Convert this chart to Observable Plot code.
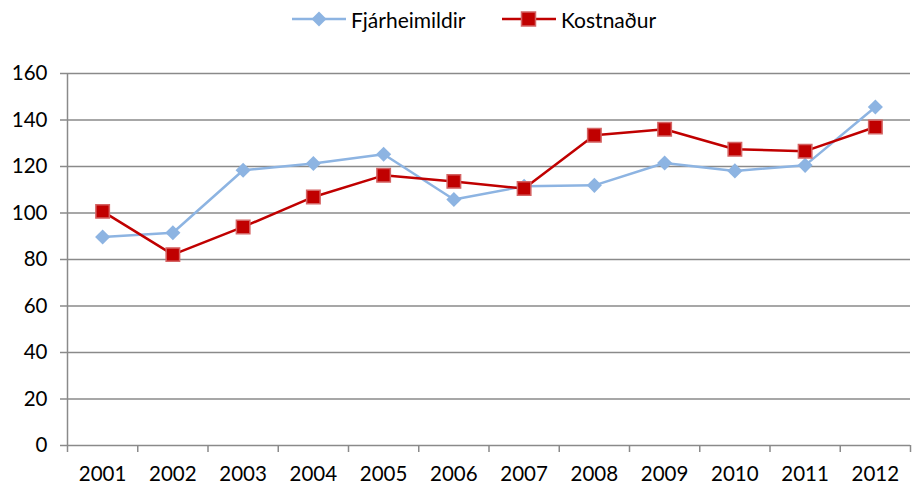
<!DOCTYPE html>
<html>
<head>
<meta charset="utf-8">
<script src="https://cdn.jsdelivr.net/npm/d3@7"></script>
<script src="https://cdn.jsdelivr.net/npm/@observablehq/plot@0.6"></script>
<style>
  body { margin: 0; background: #fff; font-family: Lato, "Open Sans", sans-serif; }
  #wrap { position: relative; width: 914px; height: 487px; }
  #legend { position: relative; height: 38px; font-size: 21px; color: #000; }
  .item { position: absolute; top: 8px; display: flex; align-items: center; height: 22px; }
  .item svg { margin-right: 5px; }
  #chart { position: absolute; top: 38px; left: 0; }
</style>
</head>
<body>
<div id="wrap">
  <div id="legend">
    <div class="item" style="left:292px">
      <svg width="54" height="22"><line x1="0" y1="11" x2="54" y2="11" stroke="#8DB4E2" stroke-width="2.5"/><path d="M27,3.5L34.5,11L27,18.5L19.5,11Z" fill="#8DB4E2"/></svg>
      <span>Fjárheimildir</span>
    </div>
    <div class="item" style="left:502px">
      <svg width="54" height="22"><line x1="0" y1="11" x2="54" y2="11" stroke="#C00000" stroke-width="2.5"/><rect x="19.5" y="4" width="14" height="14" fill="#C00000" stroke="#d46464" stroke-width="1.5"/></svg>
      <span>Kostnaður</span>
    </div>
  </div>
  <div id="chart"></div>
</div>
<script>
const years = [2001, 2002, 2003, 2004, 2005, 2006, 2007, 2008, 2009, 2010, 2011, 2012];
const fjarheimildir = [89.7, 91.5, 118.4, 121.3, 125.3, 105.8, 111.5, 111.9, 121.5, 118.1, 120.5, 145.6];
const kostnadur = [100.7, 82.1, 94.0, 106.9, 116.2, 113.6, 110.5, 133.4, 136.0, 127.4, 126.6, 137.0];
const yTicks = [0, 20, 40, 60, 80, 100, 120, 140, 160];

const fj = years.map((y, i) => ({year: y, value: fjarheimildir[i]}));
const ko = years.map((y, i) => ({year: y, value: kostnadur[i]}));
const boundaries = [...years.map(y => y - 0.5), years[years.length - 1] + 0.5];

const chart = Plot.plot({
  width: 914,
  height: 449,
  marginTop: 35,
  marginBottom: 42,
  marginLeft: 67,
  marginRight: 4,
  style: {fontFamily: "Lato, 'Open Sans', sans-serif", fontSize: "20px", color: "#000", background: "#fff"},
  x: {type: "linear", domain: [2000.5, 2012.5]},
  y: {domain: [0, 160]},
  marks: [
    Plot.ruleY(yTicks, {stroke: "#8a8a8a", strokeWidth: 1.5}),
    Plot.ruleX([2000.5], {y1: 0, y2: 160, stroke: "#8a8a8a", strokeWidth: 1.5}),
    Plot.axisY(yTicks, {tickSize: 7, tickPadding: 13, stroke: "#8a8a8a", strokeWidth: 1.5, fill: "#000", fontSize: 20.5, label: null, tickFormat: d => String(d)}),
    Plot.axisX(boundaries, {tickSize: 7, stroke: "#8a8a8a", strokeWidth: 1.5, tickFormat: () => "", label: null}),
    Plot.axisX(years, {tickSize: 0, tickPadding: 21, fill: "#000", fontSize: 20.5, label: null, tickFormat: d => String(d)}),
    Plot.line(fj, {x: "year", y: "value", stroke: "#8DB4E2", strokeWidth: 2.5}),
    Plot.line(ko, {x: "year", y: "value", stroke: "#C00000", strokeWidth: 2.5}),
    Plot.dot(fj, {x: "year", y: "value", symbol: "diamond2", r: 6.8, fill: "#8DB4E2", stroke: "none"}),
    Plot.dot(ko, {x: "year", y: "value", symbol: "square", r: 7.6, fill: "#C00000", stroke: "#d46464", strokeWidth: 1.5})
  ]
});
document.getElementById("chart").appendChild(chart);
</script>
</body>
</html>
